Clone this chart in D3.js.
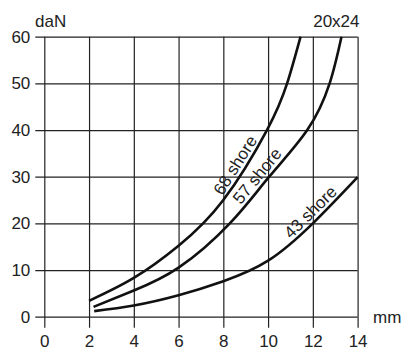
<!DOCTYPE html>
<html><head><meta charset="utf-8">
<script src="https://cdn.jsdelivr.net/npm/d3@7"></script>
<style>body{margin:0;background:#fff}svg{display:block}text{font-family:"Liberation Sans",Arial,sans-serif;fill:#222}</style>
</head><body><svg id="c" width="406" height="351"></svg>
<script>
const xTicks = [0,2,4,6,8,10,12,14];
const yTicks = [0,10,20,30,40,50,60];
const seriesNames = ["68 shore","57 shore","43 shore"];
const s68 = [[2,3.4],[4,8.3],[6,15.2],[8,25],[9.95,40],[10.85,50],[11.45,60]];
const s57 = [[2.2,2.1],[4,5.6],[6,10.5],[8.29,20],[10.05,30],[11.75,40],[12.75,50],[13.28,60]];
const s43 = [[2.23,1.2],[4,2.4],[6,4.6],[8,7.6],[10,12],[12,20],[14,29.9]];
const labelAt = [8.9, 9.85, 12.2];

const FS = 17;
const svg = d3.select("#c");
const L=44.3, R=357.6, T=36.7, B=316.7;
const x = d3.scaleLinear().domain([0,14]).range([L,R]);
const y = d3.scaleLinear().domain([0,60]).range([B,T]);
const gridCol="#222";

const gy = svg.append("g").attr("transform",`translate(${L},0)`)
  .call(d3.axisLeft(y).tickValues(yTicks).tickSize(-(R-L)).tickSizeOuter(0).tickPadding(14));
gy.select(".domain").remove();
gy.selectAll(".tick line").attr("x1",-9).attr("stroke",gridCol).attr("stroke-width",1.2);
gy.selectAll(".tick text").attr("font-size",FS).attr("fill","#222").style("font-family","Liberation Sans, Arial, sans-serif");

const gx = svg.append("g").attr("transform",`translate(0,${B})`)
  .call(d3.axisBottom(x).tickValues(xTicks).tickSize(11).tickSizeOuter(0).tickPadding(7));
gx.select(".domain").remove();
gx.selectAll(".tick line").attr("y1",-(B-T)).attr("stroke",gridCol).attr("stroke-width",1.2);
gx.selectAll(".tick text").attr("font-size",FS).attr("fill","#222").style("font-family","Liberation Sans, Arial, sans-serif");

svg.append("text").attr("x",35).attr("y",26.5).attr("font-size",FS).text("daN");
svg.append("text").attr("x",359.5).attr("y",26.5).attr("font-size",FS).attr("text-anchor","end").text("20x24");
svg.append("text").attr("x",373).attr("y",322.5).attr("font-size",FS).text("mm");

const line = d3.line().x(d=>x(d[0])).y(d=>y(d[1])).curve(d3.curveNatural);
const all=[s68,s57,s43];
all.forEach((s,i)=>{
  const p = svg.append("path").attr("d",line(s)).attr("fill","none").attr("stroke","#111").attr("stroke-width",2.6).attr("stroke-linecap","butt");
  const node=p.node(); const len=node.getTotalLength();
  let lo=0,hi=len;
  for(let k=0;k<40;k++){const m=(lo+hi)/2; if(node.getPointAtLength(m).x<x(labelAt[i])) lo=m; else hi=m;}
  const pt=node.getPointAtLength(lo), p2=node.getPointAtLength(Math.min(len,lo+3)), p1=node.getPointAtLength(Math.max(0,lo-3));
  const ang=Math.atan2(p2.y-p1.y,p2.x-p1.x);
  const off=4;
  const nx=Math.sin(ang)*off, ny=-Math.cos(ang)*off;
  svg.append("text").attr("transform",`translate(${pt.x+nx},${pt.y+ny}) rotate(${ang*180/Math.PI})`)
    .attr("text-anchor","middle").attr("font-size",17).text(seriesNames[i]);
});
</script></body></html>
